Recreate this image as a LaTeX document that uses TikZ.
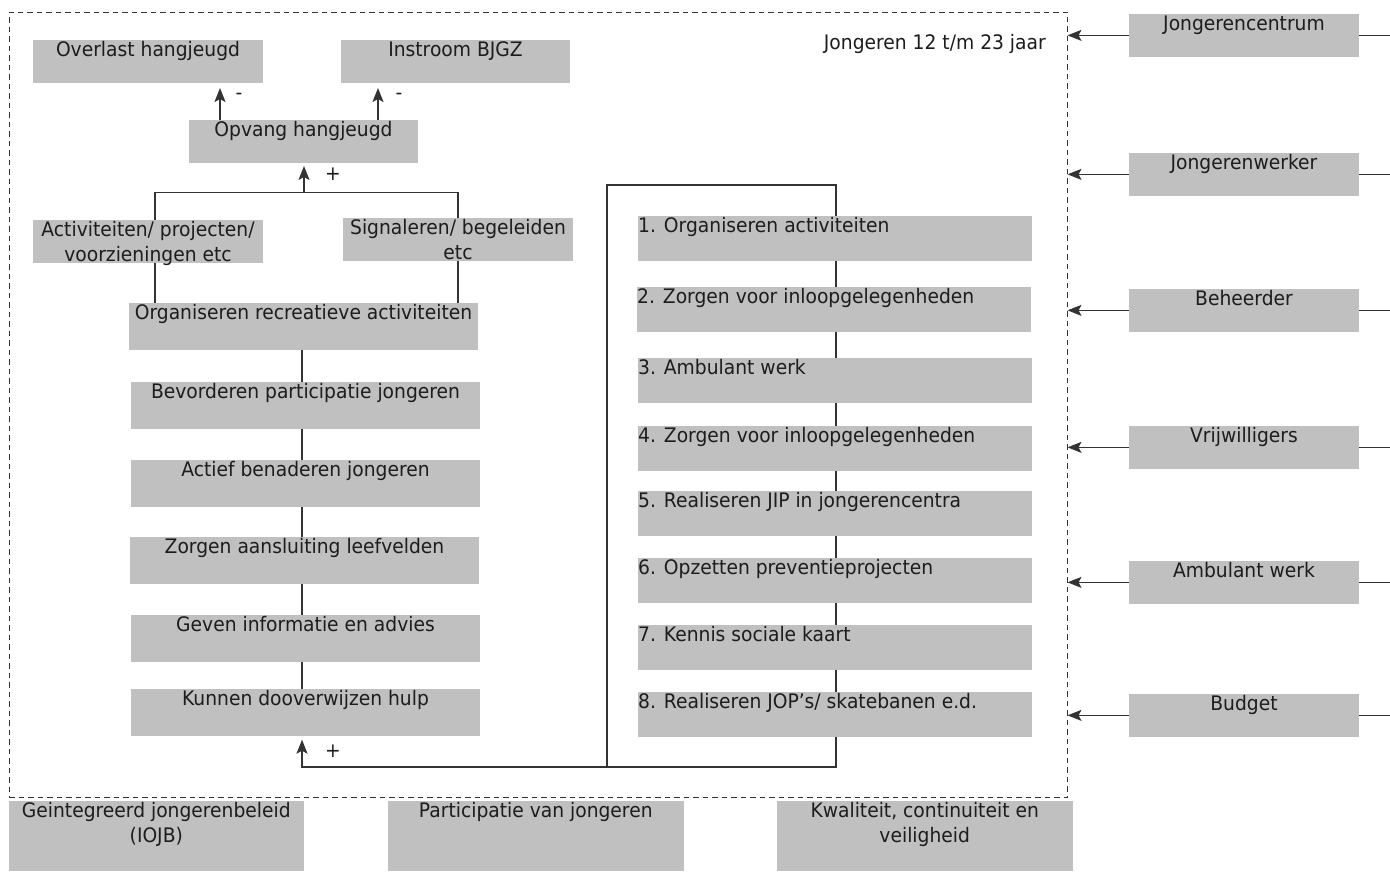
\documentclass[tikz,border=0pt]{standalone}
\usepackage{fontspec}
\setmainfont{DejaVu Sans}[FakeStretch=0.935]
\usetikzlibrary{arrows.meta}
\pgfdeclarelayer{bg}
\pgfsetlayers{bg,main}
\definecolor{boxgray}{HTML}{C0C0C0}
\definecolor{ink}{HTML}{1E1C1C}
\definecolor{wirec}{HTML}{333333}
\begin{document}
\begin{tikzpicture}[x=1pt,y=-1pt,font=\fontsize{20}{25}\selectfont,
  box/.style={fill=boxgray, inner sep=0pt, outer sep=0pt, anchor=north west},
  lbl/.style={anchor=north, inner sep=0pt, yshift=-1.5pt, align=center, text=ink},
  lbll/.style={anchor=north west, inner sep=0pt, yshift=-1.5pt, text=ink},
  wire/.style={draw=wirec, line width=1.3pt},
  arr/.style={wire, -{Stealth[length=14pt,width=11pt,inset=3pt]}},
  sign/.style={inner sep=0pt, text=ink}]
\useasboundingbox (0,0) rectangle (1390,871);

% frame
\node[draw=wirec, line width=1pt, dash pattern=on 5.5pt off 4pt, inner sep=0pt, outer sep=0pt,
      anchor=north west, minimum width=1058.5pt, minimum height=785pt] (frame) at (9,12) {};
\node[anchor=base east, inner sep=0pt, text=ink] (title) at (1046,49) {Jongeren 12 t/m 23 jaar};

% left column
\node[box, minimum width=230pt, minimum height=43pt, label={[lbl]north:{Overlast hangjeugd}}] (ovl) at (33,40) {};
\node[box, minimum width=229pt, minimum height=43pt, label={[lbl]north:{Instroom BJGZ}}] (ins) at (341,40) {};
\node[box, minimum width=229pt, minimum height=43pt, label={[lbl]north:{Opvang hangjeugd}}] (opv) at (189,120) {};
\node[box, minimum width=230pt, minimum height=42.5pt, label={[lbl]north:{Activiteiten/ projecten/\\voorzieningen etc}}] (act) at (33,220) {};
\node[box, minimum width=230pt, minimum height=42.5pt, label={[lbl]north:{Signaleren/ begeleiden\\etc}}] (sig) at (343,218) {};
\node[box, minimum width=349pt, minimum height=47pt, label={[lbl]north:{Organiseren recreatieve activiteiten}}] (org) at (129,303) {};
\node[box, minimum width=349pt, minimum height=46.7pt, label={[lbl]north:{Bevorderen participatie jongeren}}] (bev) at (131,382) {};
\node[box, minimum width=349pt, minimum height=46.7pt, label={[lbl]north:{Actief benaderen jongeren}}] (acf) at (131,460) {};
\node[box, minimum width=349pt, minimum height=46.7pt, label={[lbl]north:{Zorgen aansluiting leefvelden}}] (zor) at (130,537) {};
\node[box, minimum width=349pt, minimum height=46.7pt, label={[lbl]north:{Geven informatie en advies}}] (gev) at (131,615) {};
\node[box, minimum width=349pt, minimum height=46.7pt, label={[lbl]north:{Kunnen dooverwijzen hulp}}] (kun) at (131,689) {};

% right column (numbered)
\node[box, minimum width=394pt, minimum height=44.7pt, label={[lbll]north west:{1. Organiseren activiteiten}}] (r1) at (638,216) {};
\node[box, minimum width=394pt, minimum height=44.7pt, label={[lbll]north west:{2. Zorgen voor inloopgelegenheden}}] (r2) at (637,287) {};
\node[box, minimum width=394pt, minimum height=44.7pt, label={[lbll]north west:{3. Ambulant werk}}] (r3) at (638,358) {};
\node[box, minimum width=394pt, minimum height=44.7pt, label={[lbll]north west:{4. Zorgen voor inloopgelegenheden}}] (r4) at (638,426) {};
\node[box, minimum width=394pt, minimum height=44.7pt, label={[lbll]north west:{5. Realiseren JIP in jongerencentra}}] (r5) at (638,491) {};
\node[box, minimum width=394pt, minimum height=44.7pt, label={[lbll]north west:{6. Opzetten preventieprojecten}}] (r6) at (638,558) {};
\node[box, minimum width=394pt, minimum height=44.7pt, label={[lbll]north west:{7. Kennis sociale kaart}}] (r7) at (638,625) {};
\node[box, minimum width=394pt, minimum height=44.7pt, label={[lbll]north west:{8. Realiseren JOP’s/ skatebanen e.d.}}] (r8) at (638,692) {};

% resources on the right
\node[box, minimum width=230pt, minimum height=42.7pt, label={[lbl]north:{Jongerencentrum}}] (jc) at (1129,14) {};
\node[box, minimum width=230pt, minimum height=42.7pt, label={[lbl]north:{Jongerenwerker}}] (jw) at (1129,153) {};
\node[box, minimum width=230pt, minimum height=42.7pt, label={[lbl]north:{Beheerder}}] (beh) at (1129,289) {};
\node[box, minimum width=230pt, minimum height=42.7pt, label={[lbl]north:{Vrijwilligers}}] (vri) at (1129,426) {};
\node[box, minimum width=230pt, minimum height=42.7pt, label={[lbl]north:{Ambulant werk}}] (amb) at (1129,561) {};
\node[box, minimum width=230pt, minimum height=42.7pt, label={[lbl]north:{Budget}}] (bud) at (1129,694) {};

% bottom boxes
\node[box, minimum width=294.6pt, minimum height=70.3pt, label={[lbl]north:{Geintegreerd jongerenbeleid\\(IOJB)}}] (gij) at (9,800.7) {};
\node[box, minimum width=295.5pt, minimum height=70.3pt, label={[lbl]north:{Participatie van jongeren}}] (par) at (388,800.7) {};
\node[box, minimum width=296pt, minimum height=70.3pt, label={[lbl]north:{Kwaliteit, continuiteit en\\veiligheid}}] (kwa) at (776.7,800.7) {};

% signs
\node[sign] (m1) at (239,96) {-};
\node[sign] (m2) at (399,96) {-};
\node[sign] (p1) at (333,174) {+};
\node[sign] (p2) at (333,751) {+};

% helper coordinates
\coordinate (a1) at (220,0);
\coordinate (a2) at (378,0);
\coordinate (brL) at (155,192.5);
\coordinate (brR) at (458,192.5);
\coordinate (brM) at (304,192.5);
\coordinate (colx) at (302,0);
\coordinate (rcTL) at (607,185);
\coordinate (rcBR) at (836,767);
\coordinate (edgeR) at (1390,0);

\begin{pgfonlayer}{bg}
  \draw[arr, shorten >=5pt] (opv.north -| a1) -- (ovl.south -| a1);
  \draw[arr, shorten >=5pt] (opv.north -| a2) -- (ins.south -| a2);
  \draw[wire] (org.north -| brL) -- (brL) -- (brR) -- (org.north -| brR);
  \draw[arr, shorten >=3pt] (brM) -- (opv.south -| brM);
  \draw[wire] (org.south -| colx) -- (kun.north -| colx);
  \draw[wire] (rcTL) rectangle (rcBR);
  \draw[arr, shorten >=4pt] (rcTL |- rcBR) -| (kun.south -| colx);
  \foreach \n in {jc,jw,beh,vri,amb,bud}{
    \draw[arr] (\n.west) -- (\n.west -| frame.east);
    \draw[wire] (\n.east) -- (\n.east -| edgeR);
  }
\end{pgfonlayer}
\end{tikzpicture}
\end{document}
